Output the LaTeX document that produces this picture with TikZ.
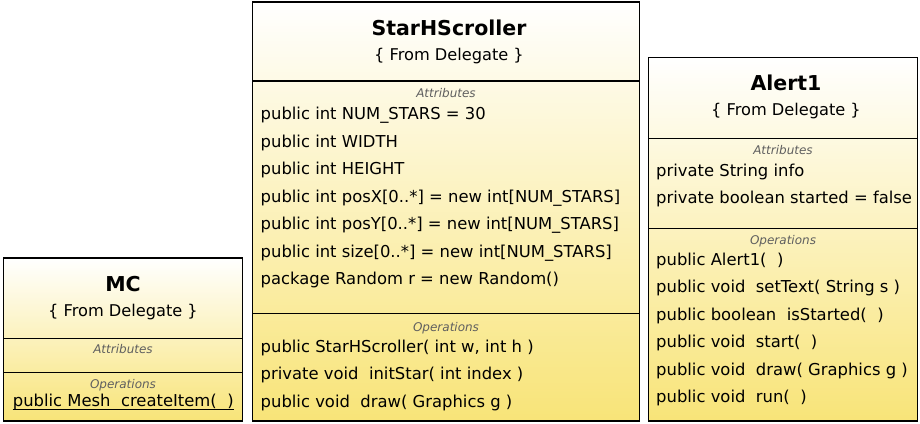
\documentclass[tikz,border=0pt]{standalone}
\usepackage{fontspec}
\setmainfont{DejaVu Sans}
\definecolor{umlyellow}{RGB}{248,228,120}
\definecolor{labelgray}{RGB}{95,95,95}
\tikzset{
  classbox/.style={draw=black, line width=1.4pt, top color=white, bottom color=umlyellow,
    anchor=north west, inner sep=0pt, outer sep=0pt},
  divider/.style={line width=1.4pt},
  titletext/.style={font=\fontsize{20.5}{24}\selectfont\bfseries, anchor=base, inner sep=0pt},
  subtext/.style={font=\fontsize{16.2}{19}\selectfont, anchor=base, inner sep=0pt},
  comptext/.style={font=\fontsize{12}{14}\selectfont\itshape, text=labelgray, anchor=base, inner sep=0pt},
  membertext/.style={font=\fontsize{16.4}{19}\selectfont, anchor=base west, inner sep=0pt},
}
\begin{document}
\begin{tikzpicture}[x=1pt, y=-1pt]
\useasboundingbox (0,0) rectangle (920,423);

% ---------------- MC ----------------
\node[classbox, minimum width=239.4pt, minimum height=163pt] (mc) at (3.3,258) {};
\coordinate (mcd1l) at (3.3,338.3);   \coordinate (mcd1r) at (242.7,338.3);
\coordinate (mcd2l) at (3.3,372.7);   \coordinate (mcd2r) at (242.7,372.7);
\draw[divider] (mcd1l) -- (mcd1r);
\draw[divider] (mcd2l) -- (mcd2r);
\node[titletext] (mct) at (123,291.7) {MC};
\node[subtext] (mcs) at (123,316.7) {\{ From Delegate \}};
\node[comptext] (mca) at (123,353.3) {Attributes};
\node[comptext] (mco) at (123,388.3) {Operations};
\node[membertext] (mcop1) at (12.7,406.7) {public Mesh\ \ createItem(\ \ )};
\draw[line width=1pt] ([yshift=-2.8pt]mcop1.base west) -- ([yshift=-2.8pt]mcop1.base east);

% ---------------- StarHScroller ----------------
\node[classbox, minimum width=386.6pt, minimum height=419pt] (sh) at (252.7,2) {};
\coordinate (shd1l) at (252.7,81);    \coordinate (shd1r) at (639.3,81);
\coordinate (shd2l) at (252.7,313.5); \coordinate (shd2r) at (639.3,313.5);
\draw[divider] (shd1l) -- (shd1r);
\draw[divider] (shd2l) -- (shd2r);
\node[titletext] (sht) at (449,35) {StarHScroller};
\node[subtext] (shs) at (449,60) {\{ From Delegate \}};
\node[comptext] (sha) at (446,97) {Attributes};
\node[membertext] (sha1) at (260.5,119.5) {public int NUM\_STARS = 30};
\node[membertext] (sha2) at (260.5,147) {public int WIDTH};
\node[membertext] (sha3) at (260.5,174.5) {public int HEIGHT};
\node[membertext] (sha4) at (260.5,202) {public int posX[0..*] = new int[NUM\_STARS]};
\node[membertext] (sha5) at (260.5,229.5) {public int posY[0..*] = new int[NUM\_STARS]};
\node[membertext] (sha6) at (260.5,257) {public int size[0..*] = new int[NUM\_STARS]};
\node[membertext] (sha7) at (260.5,284.5) {package Random r = new Random()};
\node[comptext] (sho) at (446,331) {Operations};
\node[membertext] (sho1) at (260.5,352.3) {public StarHScroller( int w, int h )};
\node[membertext] (sho2) at (260.5,379.8) {private void\ \ initStar( int index )};
\node[membertext] (sho3) at (260.5,407.3) {public void\ \ draw( Graphics g )};

% ---------------- Alert1 ----------------
\node[classbox, minimum width=269.2pt, minimum height=363.7pt] (al) at (648.3,57.3) {};
\coordinate (ald1l) at (648.3,138.3); \coordinate (ald1r) at (917.5,138.3);
\coordinate (ald2l) at (648.3,228.3); \coordinate (ald2r) at (917.5,228.3);
\draw[divider] (ald1l) -- (ald1r);
\draw[divider] (ald2l) -- (ald2r);
\node[titletext] (alt) at (786,90.3) {Alert1};
\node[subtext] (als) at (786,115.3) {\{ From Delegate \}};
\node[comptext] (ala) at (783,154.5) {Attributes};
\node[membertext] (ala1) at (656,176.7) {private String info};
\node[membertext] (ala2) at (656,203.5) {private boolean started = false};
\node[comptext] (alo) at (783,244.5) {Operations};
\node[membertext] (alo1) at (656,265) {public Alert1(\ \ )};
\node[membertext] (alo2) at (656,292.5) {public void\ \ setText( String s )};
\node[membertext] (alo3) at (656,320) {public boolean\ \ isStarted(\ \ )};
\node[membertext] (alo4) at (656,347.5) {public void\ \ start(\ \ )};
\node[membertext] (alo5) at (656,375) {public void\ \ draw( Graphics g )};
\node[membertext] (alo6) at (656,402.5) {public void\ \ run(\ \ )};
\end{tikzpicture}
\end{document}
